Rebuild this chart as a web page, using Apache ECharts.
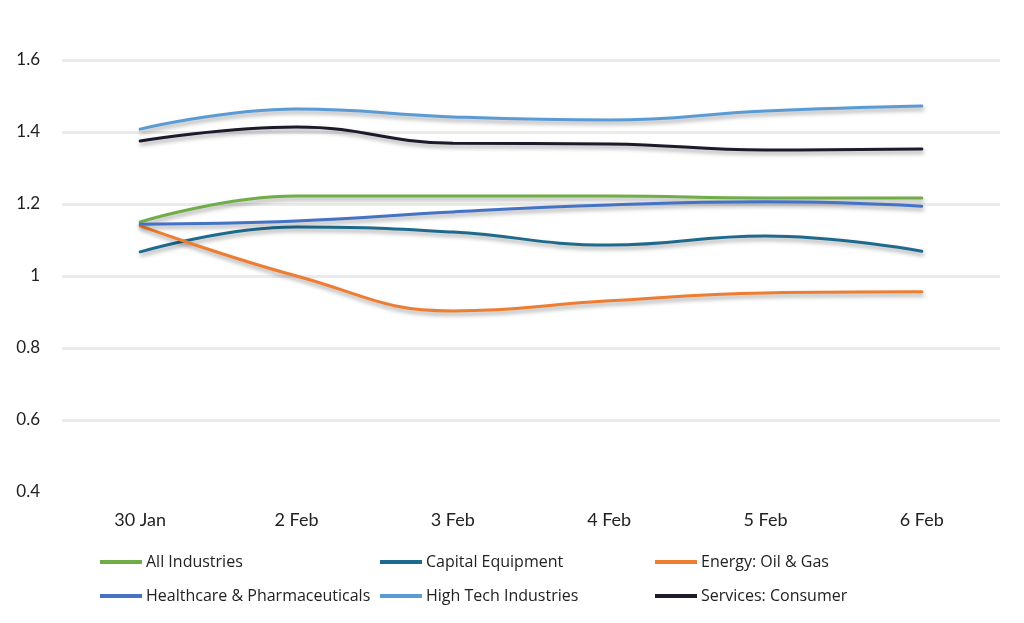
<!DOCTYPE html>
<html><head><meta charset="utf-8">
<script src="https://cdn.jsdelivr.net/npm/echarts@6/dist/echarts.min.js"></script>
<style>html,body{margin:0;padding:0;background:#fff}#c{width:1024px;height:623px}</style>
</head><body><div id="c"></div>
<script>
const categories = ['30 Jan','2 Feb','3 Feb','4 Feb','5 Feb','6 Feb'];
const allIndustries = [1.15, 1.222, 1.222, 1.222, 1.217, 1.217];
const capitalEquipment = [1.067, 1.136, 1.122, 1.086, 1.111, 1.069];
const energyOilGas = [1.139, 1.0, 0.903, 0.931, 0.953, 0.956];
const healthcare = [1.144, 1.153, 1.178, 1.197, 1.206, 1.194];
const highTech = [1.408, 1.464, 1.442, 1.433, 1.458, 1.472];
const servicesConsumer = [1.375, 1.414, 1.369, 1.367, 1.35, 1.353];
const yTicks = [0.4, 0.6, 0.8, 1, 1.2, 1.4, 1.6];

const defs = [
  ['All Industries', allIndustries, '#70AD47'],
  ['Capital Equipment', capitalEquipment, '#1E6A8D'],
  ['Energy: Oil & Gas', energyOilGas, '#ED7D31'],
  ['Healthcare & Pharmaceuticals', healthcare, '#4472C4'],
  ['High Tech Industries', highTech, '#5B9BD5'],
  ['Services: Consumer', servicesConsumer, '#1B1B2B']
];
const series = defs.map(d => ({
  name: d[0], type: 'line', data: d[1], smooth: 0.45, symbol: 'none',
  color: d[2],
  lineStyle: {width: 3, color: d[2], cap: 'round',
    shadowColor: 'rgba(0,0,0,0.35)', shadowBlur: 4, shadowOffsetY: 3, shadowOffsetX: 1}
}));
const legendBase = {
  orient: 'vertical', top: 554, padding: 0, itemWidth: 42, itemHeight: 4, icon: 'rect', itemGap: 18,
  textStyle: {fontFamily: 'Open Sans', fontSize: 16, color: '#222', padding: [0, 0, 0, -1]}
};
const chart = echarts.init(document.getElementById('c'));
chart.setOption({
  animation: false,
  backgroundColor: '#fff',
  grid: {left: 62, right: 24, top: 60, bottom: 131},
  legend: [
    Object.assign({}, legendBase, {left: 100, data: ['All Industries','Healthcare & Pharmaceuticals']}),
    Object.assign({}, legendBase, {left: 380, data: ['Capital Equipment','High Tech Industries']}),
    Object.assign({}, legendBase, {left: 655, data: ['Energy: Oil & Gas','Services: Consumer']})
  ],
  xAxis: {
    type: 'category', data: categories, boundaryGap: true,
    axisLine: {show: false}, axisTick: {show: false},
    axisLabel: {margin: 19, fontFamily: 'Lato', fontSize: 18, color: '#222'}
  },
  yAxis: {
    type: 'value', min: 0.4, max: 1.6, interval: 0.2,
    axisLine: {show: false}, axisTick: {show: false},
    axisLabel: {margin: 22, fontFamily: 'Lato', fontSize: 17, color: '#222',
      formatter: v => { const t = yTicks.find(x => Math.abs(x - v) < 1e-6); return t === undefined ? '' : String(t); }},
    splitLine: {show: true, lineStyle: {color: '#EBEBEB', width: 3},
      showMinLine: false}
  },
  series: series
});
</script></body></html>
